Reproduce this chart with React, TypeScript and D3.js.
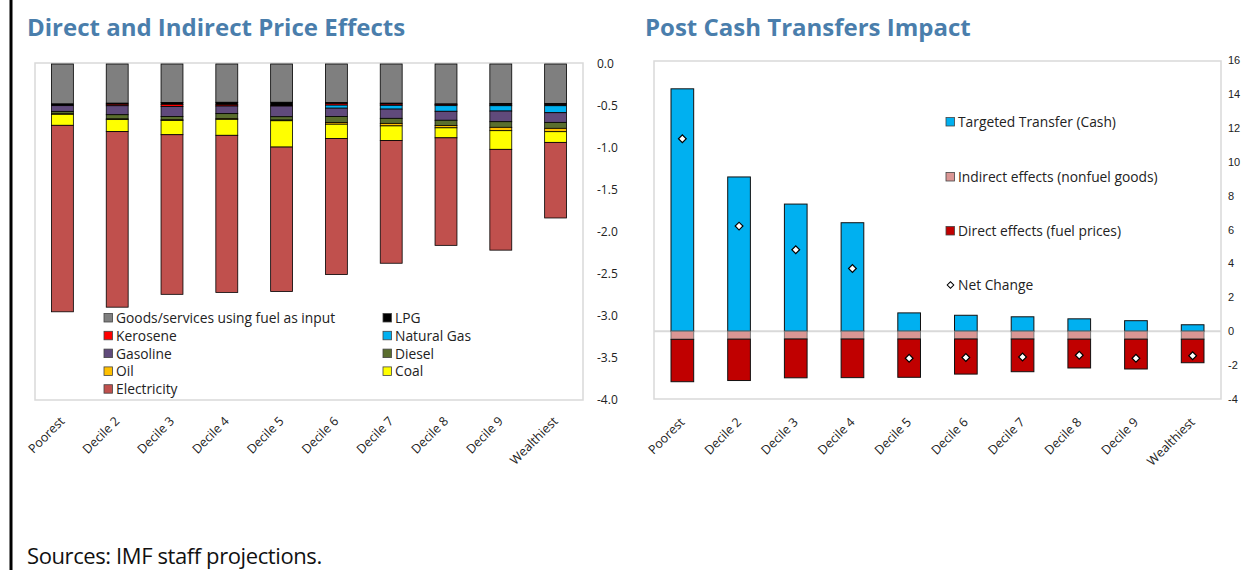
import React, { useEffect } from "react";
import * as d3 from "d3";

const deciles = ["Poorest", "Decile 2", "Decile 3", "Decile 4", "Decile 5", "Decile 6", "Decile 7", "Decile 8", "Decile 9", "Wealthiest"];

// Left chart: Direct and Indirect Price Effects (percent of consumption)
const goodsServices = [-0.476, -0.467, -0.46, -0.456, -0.456, -0.46, -0.467, -0.476, -0.472, -0.472];
const lpg = [-0.012, -0.012, -0.02, -0.03, -0.035, -0.01, -0.01, -0.005, -0.015, -0.015];
const kerosene = [-0.008, -0.018, -0.025, -0.015, -0.01, -0.02, -0.015, -0.015, -0.01, -0.01];
const naturalGas = [0, 0, 0, 0, 0, -0.036, -0.045, -0.067, -0.063, -0.083];
const gasoline = [-0.068, -0.107, -0.119, -0.09, -0.127, -0.1, -0.11, -0.107, -0.127, -0.115];
const diesel = [-0.03, -0.05, -0.04, -0.06, -0.04, -0.071, -0.06, -0.063, -0.067, -0.071];
const oil = [-0.005, -0.008, -0.008, -0.008, -0.008, -0.02, -0.03, -0.027, -0.04, -0.04];
const coal = [-0.131, -0.143, -0.17, -0.19, -0.313, -0.17, -0.175, -0.119, -0.222, -0.127];
const electricity = [-2.22, -2.09, -1.9, -1.87, -1.72, -1.62, -1.46, -1.28, -1.2, -0.9];
const leftTicks = [0, -0.5, -1, -1.5, -2, -2.5, -3, -3.5, -4];

const leftSeries = [
  { name: "Goods/services using fuel as input", values: goodsServices, color: "#7f7f7f" },
  { name: "LPG", values: lpg, color: "#000000" },
  { name: "Kerosene", values: kerosene, color: "#ff0000" },
  { name: "Natural Gas", values: naturalGas, color: "#00b0f0" },
  { name: "Gasoline", values: gasoline, color: "#604a7b" },
  { name: "Diesel", values: diesel, color: "#5a6e2e" },
  { name: "Oil", values: oil, color: "#ffc000" },
  { name: "Coal", values: coal, color: "#ffff00" },
  { name: "Electricity", values: electricity, color: "#c0504d" },
];

// Right chart: Post Cash Transfers Impact
const targetedTransfer = [14.3, 9.1, 7.5, 6.4, 1.08, 0.94, 0.85, 0.73, 0.62, 0.38];
const indirectEffects = [-0.48, -0.47, -0.46, -0.46, -0.46, -0.46, -0.46, -0.47, -0.47, -0.47];
const directEffects = [-2.5, -2.44, -2.29, -2.28, -2.26, -2.07, -1.93, -1.7, -1.76, -1.39];
const netChange = [11.35, 6.2, 4.8, 3.7, -1.6, -1.55, -1.52, -1.42, -1.6, -1.45];
const rightTicks = [16, 14, 12, 10, 8, 6, 4, 2, 0, -2, -4];

const rightSeries = [
  { name: "Targeted Transfer (Cash)", values: targetedTransfer, color: "#00b0f0" },
  { name: "Indirect effects (nonfuel goods)", values: indirectEffects, color: "#da9694" },
  { name: "Direct effects (fuel prices)", values: directEffects, color: "#c00000" },
];

const W = 1244;
const H = 570;
const FONT = "'Open Sans', 'Noto Sans', sans-serif";
const TITLE_COLOR = "#4a7eac";
const LEG_FONT = 13.8;

function LeftChart() {
  const x0 = 35, x1 = 583, yTop = 64, yBot = 400;
  const x = d3.scaleBand<string>().domain(deciles).range([x0, x1]).paddingInner(0.6).paddingOuter(0.3);
  const y = d3.scaleLinear().domain([-4, 0]).range([yBot, yTop]);
  const rows = deciles.map((d, i) => {
    const r: any = { decile: d };
    leftSeries.forEach((s) => (r[s.name] = s.values[i]));
    return r;
  });
  const stack = d3.stack<any>().keys(leftSeries.map((s) => s.name)).offset(d3.stackOffsetDiverging);
  const layers = stack(rows);
  const legendRows = [
    [leftSeries[0], leftSeries[1]],
    [leftSeries[2], leftSeries[3]],
    [leftSeries[4], leftSeries[5]],
    [leftSeries[6], leftSeries[7]],
    [leftSeries[8]],
  ];
  return (
    <g>
      <text x={27} y={36} fontFamily={FONT} fontWeight={700} fontSize={24} fill={TITLE_COLOR}>
        Direct and Indirect Price Effects
      </text>
      <rect x={x0} y={yTop - 1} width={x1 - x0} height={yBot - yTop + 1} fill="#fff" stroke="#d9d9d9" strokeWidth={1.5} />
      {layers.map((layer, li) => (
        <g key={li}>
          {layer.map((seg, i) => {
            const top = y(Math.max(seg[0], seg[1]));
            const bot = y(Math.min(seg[0], seg[1]));
            if (bot - top <= 0) return null;
            return (
              <rect key={i} x={x(deciles[i])} y={top} width={x.bandwidth()} height={bot - top}
                fill={leftSeries[li].color} stroke="#000" strokeWidth={0.8} />
            );
          })}
        </g>
      ))}
      {leftTicks.map((t) => (
        <text key={t} x={597} y={y(t) + 4} fontFamily={FONT} fontSize={12} fill="#222">
          {t === 0 ? "0.0" : t.toFixed(1).replace("\u2212", "-")}
        </text>
      ))}
      {deciles.map((d) => (
        <text key={d} fontFamily={FONT} fontSize={12.5} fill="#222" textAnchor="end"
          transform={`translate(${(x(d) as number) + x.bandwidth() / 2 + 3},${422}) rotate(-45)`}>
          {d}
        </text>
      ))}
      {legendRows.map((row, ri) =>
        row.map((s, ci) => {
          const lx = ci === 0 ? 104 : 383;
          const ly = 318 + ri * 17.8;
          return (
            <g key={s.name}>
              <rect x={lx} y={ly - 4.5} width={8.5} height={8.5} fill={s.color} stroke="#444" strokeWidth={0.8} />
              <text x={lx + 12} y={ly + 5} fontFamily={FONT} fontSize={LEG_FONT} fill="#222">{s.name}</text>
            </g>
          );
        })
      )}
    </g>
  );
}

function RightChart() {
  const x0 = 654, x1 = 1221, yTop = 60, yBot = 399;
  const x = d3.scaleBand<string>().domain(deciles).range([x0, x1]).paddingInner(0.6).paddingOuter(0.3);
  const y = d3.scaleLinear().domain([-4, 16]).range([yBot, yTop]);
  const rows = deciles.map((d, i) => {
    const r: any = { decile: d };
    rightSeries.forEach((s) => (r[s.name] = s.values[i]));
    return r;
  });
  const layers = d3.stack<any>().keys(rightSeries.map((s) => s.name)).offset(d3.stackOffsetDiverging)(rows);
  const diamond = d3.symbol().type(d3.symbolSquare).size(30)() as string;
  const legendY = [122, 177, 231, 285];
  return (
    <g>
      <text x={645} y={36} fontFamily={FONT} fontWeight={700} fontSize={24} fill={TITLE_COLOR}>
        Post Cash Transfers Impact
      </text>
      <rect x={x0} y={yTop + 1} width={x1 - x0} height={yBot - yTop - 1} fill="#fff" stroke="#d9d9d9" strokeWidth={1.5} />
      <line x1={x0} x2={x1} y1={y(0)} y2={y(0)} stroke="#d9d9d9" strokeWidth={2} />
      {layers.map((layer, li) => (
        <g key={li}>
          {layer.map((seg, i) => {
            const top = y(Math.max(seg[0], seg[1]));
            const bot = y(Math.min(seg[0], seg[1]));
            if (bot - top <= 0) return null;
            return (
              <rect key={i} x={x(deciles[i])} y={top} width={x.bandwidth()} height={bot - top}
                fill={rightSeries[li].color} stroke={li === 1 ? "#777" : "#111"} strokeWidth={1} />
            );
          })}
        </g>
      ))}
      {netChange.map((v, i) => (
        <path key={i} d={diamond} fill="#fff" stroke="#000" strokeWidth={1.2}
          transform={`translate(${(x(deciles[i]) as number) + x.bandwidth() / 2},${y(v)}) rotate(45)`} />
      ))}
      {rightTicks.map((t) => (
        <text key={t} x={1228} y={y(t) + 4} fontFamily="'Liberation Sans', Arial, sans-serif" fontSize={11} fill="#222">
          {String(t)}
        </text>
      ))}
      {deciles.map((d) => (
        <text key={d} fontFamily={FONT} fontSize={12.5} fill="#222" textAnchor="end"
          transform={`translate(${(x(d) as number) + x.bandwidth() / 2 + 3},${423}) rotate(-45)`}>
          {d}
        </text>
      ))}
      {rightSeries.map((s, i) => (
        <g key={s.name}>
          <rect x={946} y={legendY[i] - 4.5} width={8.5} height={8.5} fill={s.color} stroke="#444" strokeWidth={0.8} />
          <text x={958} y={legendY[i] + 5} fontFamily={FONT} fontSize={LEG_FONT} fill="#222">{s.name}</text>
        </g>
      ))}
      <path d={d3.symbol().type(d3.symbolSquare).size(22)() as string} fill="#fff" stroke="#000" strokeWidth={1}
        transform={`translate(${950.5},${legendY[3]}) rotate(45)`} />
      <text x={958} y={legendY[3] + 5} fontFamily={FONT} fontSize={LEG_FONT} fill="#222">Net Change</text>
    </g>
  );
}

export default function App() {
  useEffect(() => {
    document.body.style.margin = "0";
  }, []);
  return (
    <div style={{ position: "absolute", left: 0, top: 0, width: W, height: H, background: "#fff" }}>
      <svg width={W} height={H} viewBox={`0 0 ${W} ${H}`} style={{ display: "block" }}>
        <rect x={0} y={0} width={W} height={H} fill="#fff" />
        <line x1={11} x2={11} y1={0} y2={H} stroke="#000" strokeWidth={3} />
        <LeftChart />
        <RightChart />
        <text x={27} y={564} fontFamily={FONT} fontSize={22} fill="#111" letterSpacing={-0.4}>
          Sources: IMF staff projections.
        </text>
      </svg>
    </div>
  );
}
